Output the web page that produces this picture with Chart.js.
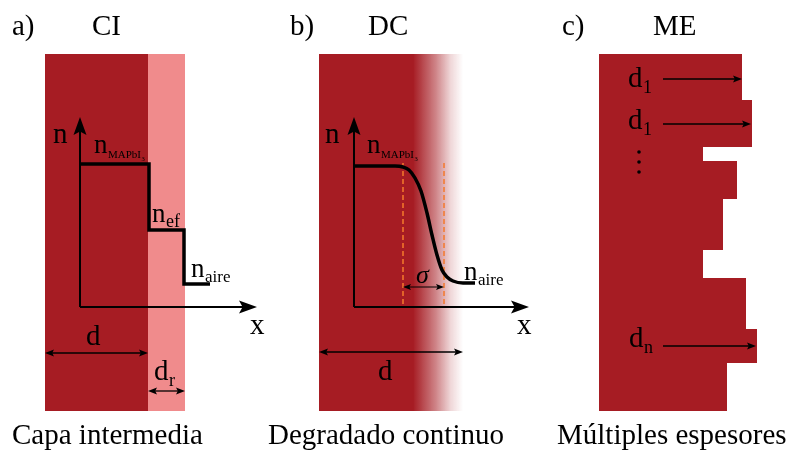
<!DOCTYPE html>
<html>
<head>
<meta charset="utf-8">
<script src="https://cdn.jsdelivr.net/npm/chart.js@4.4.1/dist/chart.umd.min.js"></script>
<style>
  html, body { margin: 0; padding: 0; background: #fff; }
  canvas { display: block; }
</style>
</head>
<body>
<canvas id="c" width="795" height="450"></canvas>
<script>
// Diagram units: x to the right, y downward (0..795, 0..450)
const panelTop = 54, panelBottom = 411;

// a) CI - bulk layer plus rough intermediate layer
const ciBulk = [45, 148];
const ciRough = [148, 185];
const ciStepX = [80, 149, 149, 184, 184, 210];
const ciStepN = [164, 164, 230, 230, 284, 284];

// b) DC - film fading into air
const dcFilm = [319, 463];
const dcFadeFrom = 413;
const dcCurveX = [354, 395, 403, 409, 415, 421, 427, 432, 437, 442, 447, 453, 463, 475];
const dcCurveN = [166, 166, 167, 170, 178, 191, 213, 235, 255, 270, 277, 281, 283, 283];
const dcSigma = [403, 444];

// c) ME - thickness profile (edges in y, right edge in x per slab)
const meLeft = 599;
const meEdgesY = [54, 100, 147, 161, 199, 250, 278, 329, 363, 411];
const meRightX = [742, 752, 703, 737, 723, 703, 746, 757, 727];
const meArrowY = [79, 124, 346];
const meArrowTo = [742, 751, 756];
const meArrowFrom = 663;

// n-x axes of panels a and b
const axisOrigin = [[80, 307], [354, 307]];
const axisTopN = 117;
const axisEndX = [257, 529];

// dimension arrows [x0, x1, y]
const dims = [[45, 148, 353], [148, 185, 391], [319, 463, 352]];

const RED = '#a61c23', PINK = '#f08b8c', ORANGE = '#f57a2c';
const SERIF = '"Liberation Serif", "DejaVu Serif", serif';

const pts = (xs, ys) => xs.map((x, i) => ({ x, y: ys[i] }));
const seg = (x0, y0, x1, y1) => [{ x: x0, y: y0 }, { x: x1, y: y1 }];

function lineSet(data, opts) {
  return Object.assign({ data, borderColor: '#000', borderWidth: 2, pointRadius: 0, fill: false, tension: 0 }, opts || {});
}

const datasets = [];
// profiles
datasets.push(lineSet(pts(ciStepX, ciStepN), { borderWidth: 3.5, borderJoinStyle: 'miter' }));
datasets.push(lineSet(pts(dcCurveX, dcCurveN), { borderWidth: 3.5, cubicInterpolationMode: 'monotone' }));
// sigma guides
dcSigma.forEach(x => datasets.push(lineSet(seg(x, 163, x, 307), { borderColor: ORANGE, borderWidth: 1.5, borderDash: [5, 3] })));
datasets.push(lineSet(seg(dcSigma[0] + 4, 287, dcSigma[1] - 4, 287), { borderWidth: 1.2 }));
// axes
axisOrigin.forEach(([x, y], i) => {
  datasets.push(lineSet(seg(x, y, x, axisTopN + 12), { borderWidth: 2 }));
  datasets.push(lineSet(seg(x, y, axisEndX[i] - 12, y), { borderWidth: 2 }));
});
// dimension shafts
dims.forEach(([x0, x1, y]) => datasets.push(lineSet(seg(x0 + 4, y, x1 - 4, y), { borderWidth: 1.3 })));
meArrowY.forEach((y, i) => datasets.push(lineSet(seg(meArrowFrom, y, meArrowTo[i] - 4, y), { borderWidth: 1.3 })));

const diagram = {
  id: 'diagram',
  beforeDatasetsDraw(chart) {
    const { ctx, scales: { x: sx, y: sy } } = chart;
    const X = v => sx.getPixelForValue(v), Y = v => sy.getPixelForValue(v);
    ctx.save();
    // a) layers
    ctx.fillStyle = RED;
    ctx.fillRect(X(ciBulk[0]), Y(panelTop), X(ciBulk[1]) - X(ciBulk[0]), Y(panelBottom) - Y(panelTop));
    ctx.fillStyle = PINK;
    ctx.fillRect(X(ciRough[0]), Y(panelTop), X(ciRough[1]) - X(ciRough[0]), Y(panelBottom) - Y(panelTop));
    // b) graded film
    const g = ctx.createLinearGradient(X(dcFadeFrom), 0, X(dcFilm[1]), 0);
    g.addColorStop(0, 'rgba(166,28,35,1)');
    g.addColorStop(0.45, 'rgba(166,28,35,0.55)');
    g.addColorStop(0.75, 'rgba(166,28,35,0.18)');
    g.addColorStop(1, 'rgba(166,28,35,0)');
    ctx.fillStyle = RED;
    ctx.fillRect(X(dcFilm[0]), Y(panelTop), X(dcFadeFrom) - X(dcFilm[0]) + 0.5, Y(panelBottom) - Y(panelTop));
    ctx.fillStyle = g;
    ctx.fillRect(X(dcFadeFrom), Y(panelTop), X(dcFilm[1]) - X(dcFadeFrom), Y(panelBottom) - Y(panelTop));
    // c) stepped thickness profile
    ctx.fillStyle = RED;
    ctx.beginPath();
    ctx.moveTo(X(meLeft), Y(meEdgesY[0]));
    meRightX.forEach((r, i) => {
      ctx.lineTo(X(r), Y(meEdgesY[i]));
      ctx.lineTo(X(r), Y(meEdgesY[i + 1]));
    });
    ctx.lineTo(X(meLeft), Y(meEdgesY[meEdgesY.length - 1]));
    ctx.closePath();
    ctx.fill();
    ctx.restore();
  },
  afterDatasetsDraw(chart) {
    const { ctx, scales: { x: sx, y: sy } } = chart;
    const X = v => sx.getPixelForValue(v), Y = v => sy.getPixelForValue(v);
    ctx.save();
    ctx.fillStyle = '#000';

    // arrowhead pointing in direction (dx,dy) with tip at (x,y)
    function head(x, y, dx, dy, len, half) {
      const px = X(x), py = Y(y);
      ctx.beginPath();
      ctx.moveTo(px, py);
      ctx.lineTo(px - dx * len - dy * half, py - dy * len + dx * half);
      ctx.lineTo(px - dx * len * 0.8, py - dy * len * 0.8);
      ctx.lineTo(px - dx * len + dy * half, py - dy * len - dx * half);
      ctx.closePath();
      ctx.fill();
    }
    axisOrigin.forEach(([x, y], i) => {
      head(x, axisTopN, 0, -1, 18, 6.5);
      head(axisEndX[i], y, 1, 0, 18, 6.5);
    });
    dims.forEach(([x0, x1, y]) => {
      head(x0, y, -1, 0, 9, 3.5);
      head(x1, y, 1, 0, 9, 3.5);
    });
    head(dcSigma[0], 287, -1, 0, 8, 3);
    head(dcSigma[1], 287, 1, 0, 8, 3);
    meArrowY.forEach((y, i) => head(meArrowTo[i], y, 1, 0, 9, 3.5));

    // labels with optional subscripts
    function label(x, y, main, size, sub, subSize, sub2) {
      ctx.textBaseline = 'alphabetic';
      ctx.font = `${size}px ${SERIF}`;
      ctx.fillText(main, X(x), Y(y));
      if (!sub) return;
      const w = ctx.measureText(main).width;
      ctx.font = `${subSize}px ${SERIF}`;
      ctx.fillText(sub, X(x) + w + 0.5, Y(y) + size * 0.2);
      if (!sub2) return;
      const w2 = ctx.measureText(sub).width;
      ctx.font = `${subSize * 0.6}px ${SERIF}`;
      ctx.fillText(sub2, X(x) + w + w2 + 1, Y(y) + size * 0.2 + 3);
    }
    // headers and captions
    label(12, 35, 'a)', 29);
    label(92, 35, 'CI', 29);
    label(290, 35, 'b)', 29);
    label(368, 35, 'DC', 29);
    label(562, 35, 'c)', 29);
    label(653, 35, 'ME', 29);
    label(12, 444, 'Capa intermedia', 29);
    label(268, 444, 'Degradado continuo', 29);
    label(557, 444, 'Múltiples espesores', 29);
    // panel a
    label(53, 143, 'n', 29);
    label(250, 334, 'x', 29);
    label(94, 153, 'n', 27, 'MAPbI', 11, '3');
    label(152, 222, 'n', 27, 'ef', 18);
    label(191, 277, 'n', 27, 'aire', 17);
    label(86, 345, 'd', 29);
    label(154, 380, 'd', 29, 'r', 18);
    // panel b
    label(325, 143, 'n', 29);
    label(517, 334, 'x', 29);
    label(367, 153, 'n', 27, 'MAPbI', 11, '3');
    label(464, 280, 'n', 27, 'aire', 17);
    ctx.font = `italic 26px ${SERIF}`;
    ctx.fillText('σ', X(416), Y(283));
    label(378, 380, 'd', 29);
    // panel c
    label(628, 87, 'd', 29, '1', 18);
    label(628, 129, 'd', 29, '1', 18);
    label(629, 347, 'd', 29, 'n', 18);
    [152, 162, 172].forEach(y => {
      ctx.beginPath();
      ctx.arc(X(639), Y(y), 1.8, 0, Math.PI * 2);
      ctx.fill();
    });
    ctx.restore();
  }
};

new Chart(document.getElementById('c'), {
  type: 'line',
  data: { datasets },
  options: {
    responsive: false,
    animation: false,
    layout: { padding: 0 },
    plugins: { legend: { display: false }, tooltip: { enabled: false } },
    scales: {
      x: { type: 'linear', min: 0, max: 795, display: false },
      y: { type: 'linear', min: 0, max: 450, reverse: true, display: false }
    }
  },
  plugins: [diagram]
});
</script>
</body>
</html>
